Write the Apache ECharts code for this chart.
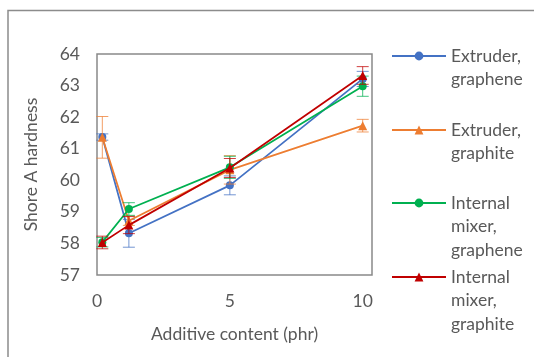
<!DOCTYPE html>
<html><head><meta charset="utf-8">
<style>html,body{margin:0;padding:0;background:#fff}#c{width:534px;height:357px}</style>
<script src="https://cdn.jsdelivr.net/npm/echarts@6/dist/echarts.min.js"></script>
</head><body><div id="c"></div>
<script>
const xValues = [0.2, 1.2, 5, 10];
const seriesNames = ['Extruder, graphene', 'Extruder, graphite', 'Internal mixer, graphene', 'Internal mixer, graphite'];
const legendLabels = ['Extruder,\ngraphene', 'Extruder,\ngraphite', 'Internal\nmixer,\ngraphene', 'Internal\nmixer,\ngraphite'];
const extruderGraphene = [61.37, 58.32, 59.84, 63.21];
const extruderGraphite = [61.36, 58.72, 60.33, 61.73];
const internalGraphene = [58.04, 59.09, 60.41, 62.98];
const internalGraphite = [58.03, 58.58, 60.39, 63.32];
const errExtruderGraphene = [0.1, 0.44, 0.3, 0.24];
const errExtruderGraphite = [0.66, 0.15, 0.45, 0.2];
const errInternalGraphene = [0.15, 0.2, 0.35, 0.32];
const errInternalGraphite = [0.2, 0.27, 0.3, 0.28];
const yTicks = [57, 58, 59, 60, 61, 62, 63, 64];
const xTicks = [0, 5, 10];

const values = [extruderGraphene, extruderGraphite, internalGraphene, internalGraphite];
const errors = [errExtruderGraphene, errExtruderGraphite, errInternalGraphene, errInternalGraphite];
const colors = ['#4472C4', '#ED7D31', '#00B050', '#C00000'];
const symbols = ['circle', 'triangle', 'circle', 'triangle'];
const iconCenters = [56, 130, 203, 277];
const LH = 23.5;
const FONT = 'Lato';
const FS = 17.5;

const chart = echarts.init(document.getElementById('c'));
const series = [];
values.forEach((vals, i) => {
  series.push({
    name: 'err' + i, type: 'custom', z: 2 + i * 2,
    data: xValues.map((x, j) => [x, vals[j], errors[i][j]]),
    renderItem: (params, api) => {
      const x = api.value(0), y = api.value(1), e = api.value(2);
      const t = api.coord([x, y + e]), b = api.coord([x, y - e]);
      const w = 6;
      const st = { stroke: colors[i], lineWidth: 1, opacity: 0.75 };
      return { type: 'group', children: [
        { type: 'line', shape: { x1: t[0], y1: t[1], x2: b[0], y2: b[1] }, style: st },
        { type: 'line', shape: { x1: t[0] - w, y1: t[1], x2: t[0] + w, y2: t[1] }, style: st },
        { type: 'line', shape: { x1: b[0] - w, y1: b[1], x2: b[0] + w, y2: b[1] }, style: st }
      ]};
    }
  });
  series.push({
    name: seriesNames[i], type: 'line', z: 3 + i * 2,
    data: xValues.map((x, j) => [x, vals[j]]),
    symbol: symbols[i], symbolSize: symbols[i] === 'circle' ? 8 : 9,
    lineStyle: { color: colors[i], width: 1.75 },
    itemStyle: { color: colors[i] },
    animation: false
  });
});

const legends = seriesNames.map((n, i) => {
  const lines = legendLabels[i].split('\n');
  const pad = new Array(lines.length - 1).fill(' ');
  const text = pad.concat(lines).join('\n');
  const total = (2 * lines.length - 1) * LH;
  return {
    data: [n], orient: 'vertical', left: 391, top: iconCenters[i] - total / 2,
    itemWidth: 54, itemHeight: 11, padding: 0,
    formatter: () => text,
    textStyle: { fontFamily: FONT, fontSize: FS, color: '#595959', lineHeight: LH },
    selectedMode: false
  };
});

chart.setOption({
  animation: false,
  backgroundColor: '#fff',
  graphic: [{ type: 'rect', shape: { x: 8, y: 10.5, width: 700, height: 500 }, style: { fill: 'none', stroke: '#8c8c8c', lineWidth: 1.5 }, silent: true }],
  grid: { left: 97, top: 54, right: 162, bottom: 82, show: true, borderColor: '#898989', borderWidth: 1.5, backgroundColor: 'transparent' },
  legend: legends,
  xAxis: {
    type: 'value', min: 0, max: 10.35, interval: 5,
    axisLine: { show: false }, axisTick: { show: false }, splitLine: { show: false },
    axisLabel: { fontFamily: FONT, fontSize: FS, color: '#595959', margin: 17, showMaxLabel: false,
      formatter: v => xTicks.includes(v) ? String(v) : '' },
    name: 'Additive content (phr)', nameLocation: 'middle', nameGap: 50,
    nameTextStyle: { fontFamily: FONT, fontSize: FS, color: '#595959' }
  },
  yAxis: {
    type: 'value', min: yTicks[0], max: yTicks[yTicks.length - 1], interval: 1,
    axisLine: { show: false }, axisTick: { show: false }, splitLine: { show: false },
    axisLabel: { fontFamily: FONT, fontSize: FS, color: '#595959', margin: 17 },
    name: 'Shore A hardness', nameLocation: 'middle', nameGap: 57, nameRotate: 90,
    nameTextStyle: { fontFamily: FONT, fontSize: FS, color: '#595959' }
  },
  series
});
</script></body></html>
